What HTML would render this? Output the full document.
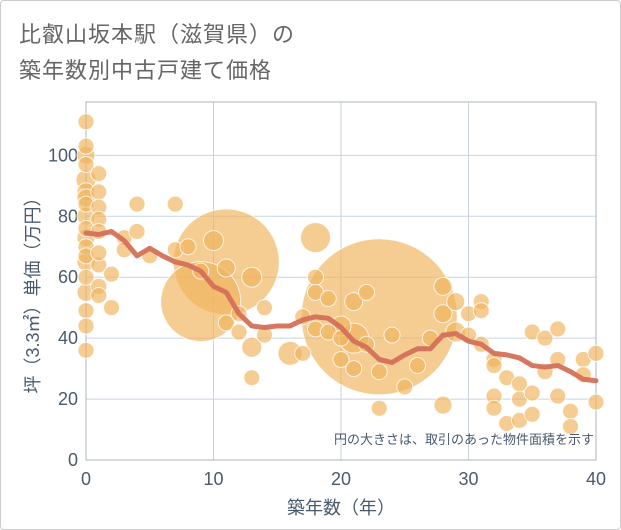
<!DOCTYPE html>
<html><head><meta charset="utf-8"><style>
body{margin:0;background:#fff;}
#wrap{position:relative;width:619px;height:528px;border:1px solid #ccc;border-radius:4px;overflow:hidden;font-family:"Liberation Sans","Noto Sans CJK JP",sans-serif;}
.title{position:absolute;left:18px;font-size:22px;color:#666;letter-spacing:1px;white-space:nowrap;}
</style></head><body>
<div id="wrap">
<div class="title" style="top:16px">比叡山坂本駅（滋賀県）の</div>
<div class="title" style="top:52px">築年数別中古戸建て価格</div>
<svg id="chart" width="621" height="530" style="position:absolute;left:-1px;top:-1px"></svg>
</div>
<script>
const xTicks=[0,10,20,30,40];
const yTicks=[0,20,40,60,80,100];
const trendYears=[0,1,2,3,4,5,6,7,8,9,10,11,12,13,14,15,16,17,18,19,20,21,22,23,24,25,26,27,28,29,30,31,32,33,34,35,36,37,38,39,40];
const trendValues=[74.5,74,75,72,67,69.5,67,65,64,62,57,55,48,44,43.5,44,44,46,47,46.5,43.5,39,37,33,32,34.5,36.5,36.5,41,41.5,39,38,35,34.5,33.5,31,30.5,31,29,26.5,26];
const bubbleYears=[0,0,0,0,0,0,0,0,0,0,0,0,0,0,0,0,0,0,0,1,1,1,1,1,1,1,1,1,2,2,3,3,4,4,5,7,7,8,9,10,11,11,12,12,13,13,14,14,16,17,17,18,18,18,19,19,20,20,20,21,21,22,22,23,23,24,25,26,27,28,28,28,29,29,30,30,31,31,31,32,32,32,32,33,33,34,34,34,35,35,35,36,36,37,37,37,38,38,39,39,40,40,11,9,23,18,21,13];
const bubbleValues=[111,103,100,97,92,88,84,80,76,70,65,60,55,49,44,36,86,73,67,94,88,83,79,75,64,57,54,68,61,50,73,69,84,75,67,84,69,70,62,72,63,45,48,42,60,27,50,41,35,47,35,60,55,43,42,53,44,40,33,52,30,38,55,29,17,41,24,31,40,48,18,57,42,52,48,41,52,38,49,33,31,21,17,12,27,25,20,13,42,22,15,40,29,43,33,21,16,11,33,28,35,19,65,52,47,73,40,37];
const bubbleSizes=[8,8,9,8,10,9,8,9,8,8,9,8,9,8,8,8,9,9,8,8,8,8,8,8,8,8,8,8,8,8,8,8,8,8,8,8,8,8,8,10,9,8,8,8,10,8,8,8,12,8,8,8,8,8,8,8,10,8,8,9,8,8,8,8,8,8,8,8,8,9,9,9,10,9,8,8,8,8,8,8,8,8,8,8,8,8,8,8,8,8,8,8,8,8,8,8,8,8,8,8,8,8,53,40,78,15,15,10];
const svg=document.getElementById('chart');
const NS='http://www.w3.org/2000/svg';
const X0=86,X1=596,Y0=460,Y1=102,XMAX=40,YMAX=117.5;
function xs(v){return X0+(X1-X0)*v/XMAX;}
function ys(v){return Y0-(Y0-Y1)*v/YMAX;}
function mk(tag,attrs){const e=document.createElementNS(NS,tag);for(const k in attrs)e.setAttribute(k,attrs[k]);svg.appendChild(e);return e;}
xTicks.forEach(t=>{const l=mk('line',{x1:xs(t),x2:xs(t),y1:Y1,y2:Y0,stroke:'#c9d3e0','stroke-width':1});


const tx=mk('text',{x:xs(t),y:Y0+25,'text-anchor':'middle','font-size':18,fill:'#4a5a6e'});tx.textContent=t;

});
yTicks.forEach(t=>{const l=mk('line',{x1:X0,x2:X1,y1:ys(t),y2:ys(t),stroke:'#c9d3e0','stroke-width':1});


const tx=mk('text',{x:X0-8,y:ys(t)+6,'text-anchor':'end','font-size':18,fill:'#4a5a6e'});tx.textContent=t;

});
const fr=mk('rect',{x:X0,y:Y1,width:X1-X0,height:Y0-Y1,fill:'none',stroke:'#a8b4c2','stroke-width':1});


const order=bubbleSizes.map((s,i)=>i).sort((a,b)=>bubbleSizes[b]-bubbleSizes[a]);
order.forEach(i=>{const c=mk('circle',{cx:xs(bubbleYears[i]),cy:ys(bubbleValues[i]),r:bubbleSizes[i],fill:'rgba(240,180,95,0.68)',stroke:'rgba(255,255,255,0.8)','stroke-width':1});

});
const pts=trendYears.map((y,i)=>xs(y)+','+ys(trendValues[i])).join(' ');
const pl=mk('polyline',{points:pts,fill:'none',stroke:'#d4705a','stroke-width':5,'stroke-linejoin':'round','stroke-linecap':'round',opacity:0.95});


const note=mk('text',{x:594,y:444,'text-anchor':'end','font-size':13,fill:'#4a5a6e'});note.textContent='円の大きさは、取引のあった物件面積を示す';


const xt=mk('text',{x:(X0+X1)/2,y:514,'text-anchor':'middle','font-size':18,fill:'#4a5a6e'});xt.textContent='築年数（年）';


const yt=mk('text',{x:0,y:0,'text-anchor':'middle','font-size':18,fill:'#4a5a6e',transform:'translate(39,'+((Y0+Y1)/2+10)+') rotate(-90)'});yt.textContent='坪（3.3㎡）単価（万円）';


</script>
</body></html>
